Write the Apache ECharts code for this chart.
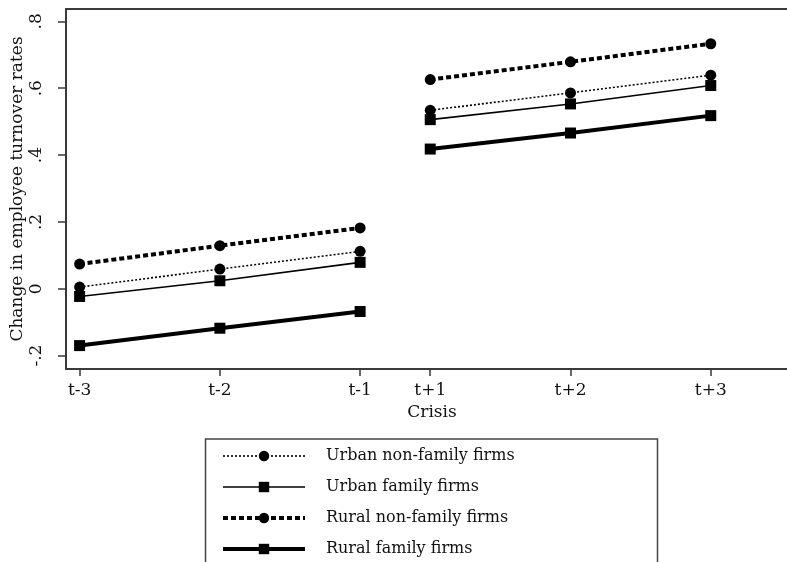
<!DOCTYPE html>
<html>
<head>
<meta charset="utf-8">
<script src="https://cdn.jsdelivr.net/npm/echarts@6/dist/echarts.min.js"></script>
<style>
html,body{margin:0;padding:0;background:#fff;}
#chart{width:787px;height:562px;}
</style>
</head>
<body>
<div id="chart"></div>
<script>
// Period tick labels and their positions on the horizontal scale
var periodLabels = ['t-3', 't-2', 't-1', 't+1', 't+2', 't+3'];
var periodPos = [1, 2, 3, 3.5, 4.5, 5.5];
var yTicks = [-0.2, 0, 0.2, 0.4, 0.6, 0.8];

var seriesNames = ['Urban non-family firms', 'Urban family firms', 'Rural non-family firms', 'Rural family firms'];
// Values in the order of periodLabels
var urbanNonFamily = [0.005, 0.059, 0.112, 0.534, 0.586, 0.639];
var urbanFamily    = [-0.023, 0.024, 0.079, 0.506, 0.553, 0.608];
var ruralNonFamily = [0.074, 0.129, 0.182, 0.626, 0.679, 0.733];
var ruralFamily    = [-0.170, -0.118, -0.068, 0.418, 0.466, 0.518];

var allValues = [urbanNonFamily, urbanFamily, ruralNonFamily, ruralFamily];
var styles = [
  {symbol: 'circle', lineStyle: {width: 1.6, type: [2, 2], color: '#000'}},
  {symbol: 'rect', lineStyle: {width: 1.6, type: 'solid', color: '#000'}},
  {symbol: 'circle', lineStyle: {width: 4, type: [5, 3], color: '#000'}},
  {symbol: 'rect', lineStyle: {width: 4, type: 'solid', color: '#000'}}
];

var FONT = 'DejaVu Serif';
var series = [];
allValues.forEach(function (vals, k) {
  var pre = [], post = [];
  for (var i = 0; i < 3; i++) pre.push([periodPos[i], vals[i]]);
  for (var j = 3; j < 6; j++) post.push([periodPos[j], vals[j]]);
  [pre, post].forEach(function (d) {
    series.push({
      name: seriesNames[k],
      type: 'line',
      data: d,
      symbol: styles[k].symbol,
      symbolSize: 11,
      showSymbol: true,
      itemStyle: {color: '#000'},
      lineStyle: styles[k].lineStyle,
      animation: false,
      z: 10 - k
    });
  });
});

function fmtY(v) {
  if (Math.abs(v) < 1e-9) return '0';
  var s = Math.abs(v).toFixed(1).replace(/^0/, '');
  return (v < 0 ? '-' : '') + s;
}
function fmtX(v) {
  for (var i = 0; i < periodPos.length; i++) {
    if (Math.abs(periodPos[i] - v) < 1e-6) return periodLabels[i];
  }
  return '';
}

var legendData = seriesNames.map(function (n, k) {
  return {name: n, lineStyle: {width: styles[k].lineStyle.width, type: styles[k].lineStyle.type, color: '#000'}};
});

var AXC = '#3a3a3a';
var XMIN = 0.903, XMAX = 6.122;
var chart = echarts.init(document.getElementById('chart'));
chart.setOption({
  backgroundColor: '#fff',
  animation: false,
  grid: {left: 66, top: 9, right: -11, bottom: 193, outerBoundsMode: 'none', containLabel: false},
  xAxis: [{
    type: 'value',
    min: XMIN, max: XMAX,
    name: 'Crisis',
    nameLocation: 'middle',
    nameGap: 35,
    nameMoveOverlap: false,
    nameTextStyle: {fontFamily: FONT, fontSize: 17, color: '#111'},
    axisLine: {show: true, onZero: false, lineStyle: {color: AXC, width: 2}},
    axisTick: {show: true, length: 7, lineStyle: {color: AXC, width: 1.5}, customValues: periodPos},
    axisLabel: {show: true, margin: 13, fontFamily: FONT, fontSize: 17, color: '#111', customValues: periodPos, formatter: fmtX},
    splitLine: {show: false}
  }, {
    type: 'value',
    position: 'top',
    min: XMIN, max: XMAX,
    axisLine: {show: true, onZero: false, lineStyle: {color: AXC, width: 2}},
    axisTick: {show: false},
    axisLabel: {show: false},
    splitLine: {show: false}
  }],
  yAxis: {
    type: 'value',
    min: -0.24, max: 0.837,
    name: 'Change in employee turnover rates',
    nameLocation: 'middle',
    nameGap: 40,
    nameMoveOverlap: false,
    nameRotate: 90,
    nameTextStyle: {fontFamily: FONT, fontSize: 17, color: '#111'},
    axisLine: {show: true, onZero: false, lineStyle: {color: AXC, width: 2}},
    axisTick: {show: true, length: 8, lineStyle: {color: AXC, width: 1.5}, customValues: yTicks},
    axisLabel: {show: true, rotate: 90, margin: 21, fontFamily: FONT, fontSize: 17, color: '#111', customValues: yTicks, formatter: fmtY},
    splitLine: {show: false}
  },
  graphic: [{
    type: 'rect',
    shape: {x: 205.5, y: 439, width: 452, height: 140},
    style: {fill: '#fff', stroke: '#444', lineWidth: 1.5},
    z: 0
  }],
  legend: {
    data: legendData,
    orient: 'vertical',
    left: 205,
    top: 439,
    itemWidth: 82,
    itemHeight: 13,
    itemGap: 15,
    padding: [9, 0, 0, 16],
    selectedMode: false,
    z: 5,
    textStyle: {fontFamily: FONT, fontSize: 16, color: '#111', padding: [0, 0, 0, 16]}
  },
  series: series
});
</script>
</body>
</html>
